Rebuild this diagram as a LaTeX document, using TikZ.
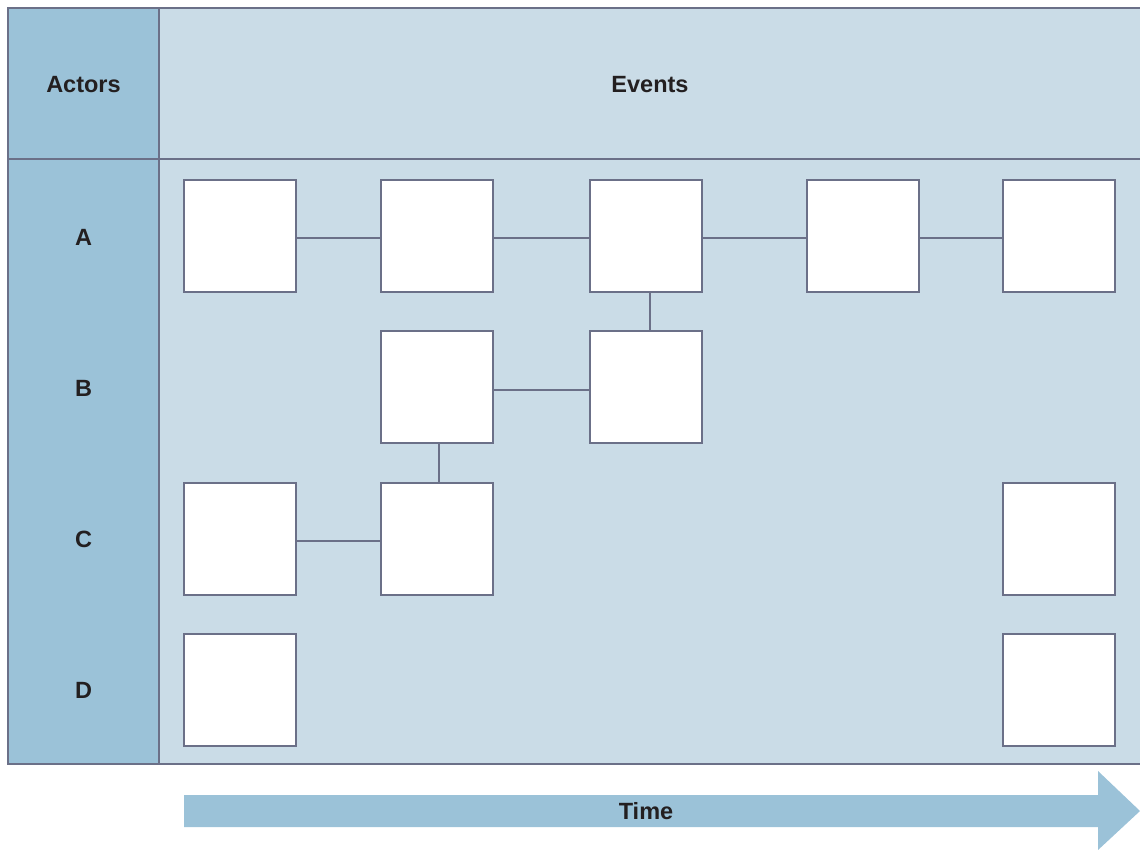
\documentclass[tikz,border=0pt]{standalone}
\usepackage{fontspec}
\setmainfont{Liberation Sans}
\definecolor{colblue}{HTML}{9BC2D8}
\definecolor{paneblue}{HTML}{CADCE7}
\definecolor{rule}{HTML}{6B7088}
\definecolor{ink}{HTML}{231F20}
\begin{document}
\begin{tikzpicture}[x=1pt,y=-1pt,
  label/.style={font=\fontsize{23.5}{28}\selectfont\bfseries, text=ink},
  eventbox/.style={draw=rule, line width=1.2pt, fill=white, minimum width=112pt, minimum height=112pt, inner sep=0pt},
  link/.style={draw=rule, line width=1.1pt}]
\useasboundingbox (0,0) rectangle (1140,850);
% panels
\fill[paneblue] (8,8) rectangle (1140,764);
\fill[colblue] (8,8) rectangle (159,764);
\draw[rule, line width=1.5pt] (1140,8) -- (8,8) -- (8,764) -- (1140,764);
\draw[rule, line width=1.5pt] (8,159) -- (1140,159);
\draw[rule, line width=1.5pt] (159,8) -- (159,764);
% headings
\node[label] (actors) at (83.5,85) {Actors};
\node[label] (events) at (650,85) {Events};
\node[label] (la) at (83.5,237) {A};
\node[label] (lb) at (83.5,388) {B};
\node[label] (lc) at (83.5,539) {C};
\node[label] (ld) at (83.5,690) {D};
% event boxes
\node[eventbox] (a1) at (240,236) {};
\node[eventbox] (a2) at (437,236) {};
\node[eventbox] (a3) at (646,236) {};
\node[eventbox] (a4) at (863,236) {};
\node[eventbox] (a5) at (1059,236) {};
\node[eventbox] (b1) at (437,387) {};
\node[eventbox] (b2) at (646,387) {};
\node[eventbox] (c1) at (240,539) {};
\node[eventbox] (c2) at (437,539) {};
\node[eventbox] (c5) at (1059,539) {};
\node[eventbox] (d1) at (240,690) {};
\node[eventbox] (d5) at (1059,690) {};
% connectors
\draw[link] ([yshift=-2pt]a1.east) -- ([yshift=-2pt]a2.west);
\draw[link] ([yshift=-2pt]a2.east) -- ([yshift=-2pt]a3.west);
\draw[link] ([yshift=-2pt]a3.east) -- ([yshift=-2pt]a4.west);
\draw[link] ([yshift=-2pt]a4.east) -- ([yshift=-2pt]a5.west);
\draw[link] ([xshift=4pt]a3.south) -- ([xshift=4pt]b2.north);
\draw[link] ([yshift=-3pt]b1.east) -- ([yshift=-3pt]b2.west);
\draw[link] ([xshift=2pt]b1.south) -- ([xshift=2pt]c2.north);
\draw[link] ([yshift=-2pt]c1.east) -- ([yshift=-2pt]c2.west);
% time arrow
\fill[colblue] (184,795) -- (1098,795) -- (1098,771) -- (1140,811) -- (1098,850) -- (1098,827) -- (184,827) -- cycle;
\node[label] (time) at (646,811) {Time};
\end{tikzpicture}
\end{document}
